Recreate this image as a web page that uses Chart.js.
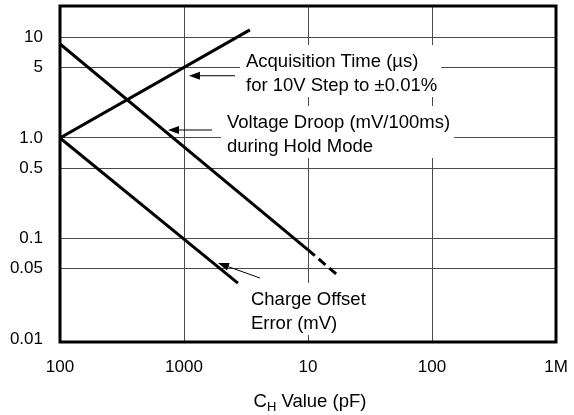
<!DOCTYPE html>
<html>
<head>
<meta charset="utf-8">
<script src="https://cdn.jsdelivr.net/npm/chart.js@4"></script>
<style>
  html, body { margin: 0; padding: 0; background: #fff; }
  canvas { display: block; }
</style>
</head>
<body>
<canvas id="chart" width="574" height="415"></canvas>
<script>
// Axis ticks
var xTicks = [100, 1000, 10000, 100000, 1000000];
var xTickLabels = ['100', '1000', '10', '100', '1M'];
var yTicks = [0.01, 0.05, 0.1, 0.5, 1, 5, 10];
var yTickLabels = ['0.01', '0.05', '0.1', '0.5', '1.0', '5', '10'];

// Curves (C_H in pF vs value)
var acqCap = [100, 3400];
var acqTime = [1.0, 11.9];
var droopCap = [100, 10000];
var droop = [8.6, 0.077];
var droopExtCap = [10000, 17600];
var droopExt = [0.077, 0.0424];
var chargeCap = [100, 2720];
var chargeErr = [1.0, 0.036];

// Annotations (anchors in data units)
var noteTexts = [
  ['Acquisition Time (µs)', 'for 10V Step to ±0.01%'],
  ['Voltage Droop (mV/100ms)', 'during Hold Mode'],
  ['Charge Offset', 'Error (mV)']
];
var noteAnchors = [[3162, 5.08], [2222, 1.256], [3467, 0.0218]];
var arrowTails = [[2577, 4.16], [1683, 1.2], [4100, 0.0404]];
var arrowHeads = [[1096, 4.16], [743, 1.2], [1879, 0.057]];

var FONT = '"Liberation Sans", Arial, Helvetica, sans-serif';
var NOTE_FONT = '18.5px ' + FONT;
Chart.defaults.font.family = FONT;
Chart.defaults.color = '#000';

function pairs(xs, ys) {
  return xs.map((x, i) => ({ x: x, y: ys[i] }));
}

function lineSet(xs, ys, dash) {
  return {
    data: pairs(xs, ys),
    borderColor: '#000',
    borderWidth: 3,
    borderDash: dash || [],
    pointRadius: 0,
    fill: false,
    tension: 0
  };
}

const notesPlugin = {
  id: 'notes',
  beforeDatasetsDraw(chart) {
    const ctx = chart.ctx;
    const xs = chart.scales.x, ys = chart.scales.y;
    ctx.save();
    ctx.font = NOTE_FONT;
    noteTexts.forEach((lines, i) => {
      const left = xs.getPixelForValue(noteAnchors[i][0]);
      const base = ys.getPixelForValue(noteAnchors[i][1]);
      const w = Math.max(...lines.map(t => ctx.measureText(t).width));
      ctx.fillStyle = '#fff';
      ctx.fillRect(left - 6, base - 22, w + 10, 24 * (lines.length - 1) + 28);
    });
    ctx.restore();
  },
  afterDatasetsDraw(chart) {
    const ctx = chart.ctx;
    const a = chart.chartArea;
    const xs = chart.scales.x, ys = chart.scales.y;
    ctx.save();
    // frame
    ctx.strokeStyle = '#000';
    ctx.lineWidth = 3;
    ctx.strokeRect(a.left, a.top, a.right - a.left, a.bottom - a.top);

    // labels
    ctx.fillStyle = '#000';
    ctx.font = NOTE_FONT;
    ctx.textAlign = 'left';
    ctx.textBaseline = 'alphabetic';
    noteTexts.forEach((lines, i) => {
      const left = xs.getPixelForValue(noteAnchors[i][0]);
      const base = ys.getPixelForValue(noteAnchors[i][1]);
      lines.forEach((t, j) => ctx.fillText(t, left, base + j * 24));
    });

    // arrows
    ctx.lineWidth = 1;
    arrowTails.forEach((tail, i) => {
      const x0 = xs.getPixelForValue(tail[0]), y0 = ys.getPixelForValue(tail[1]);
      const x1 = xs.getPixelForValue(arrowHeads[i][0]), y1 = ys.getPixelForValue(arrowHeads[i][1]);
      const ang = Math.atan2(y1 - y0, x1 - x0);
      ctx.beginPath();
      ctx.moveTo(x0, y0);
      ctx.lineTo(x1 - 8 * Math.cos(ang), y1 - 8 * Math.sin(ang));
      ctx.stroke();
      ctx.beginPath();
      ctx.moveTo(x1, y1);
      ctx.lineTo(x1 - 11 * Math.cos(ang) + 4 * Math.sin(ang), y1 - 11 * Math.sin(ang) - 4 * Math.cos(ang));
      ctx.lineTo(x1 - 11 * Math.cos(ang) - 4 * Math.sin(ang), y1 - 11 * Math.sin(ang) + 4 * Math.cos(ang));
      ctx.closePath();
      ctx.fill();
    });

    // x axis title with subscript
    const cx = (a.left + a.right) / 2 + 2;
    const by = 407;
    ctx.font = NOTE_FONT;
    const wC = ctx.measureText('C').width;
    const wRest = ctx.measureText(' Value (pF)').width;
    ctx.font = '13px ' + FONT;
    const wH = ctx.measureText('H').width;
    let x = cx - (wC + wH + wRest) / 2;
    ctx.font = NOTE_FONT;
    ctx.fillText('C', x, by);
    x += wC;
    ctx.font = '13px ' + FONT;
    ctx.fillText('H', x, by + 4);
    x += wH;
    ctx.font = NOTE_FONT;
    ctx.fillText(' Value (pF)', x, by);
    ctx.restore();
  }
};

new Chart(document.getElementById('chart').getContext('2d'), {
  type: 'line',
  data: {
    datasets: [
      lineSet(acqCap, acqTime),
      lineSet(droopCap, droop),
      lineSet(droopExtCap, droopExt, [9, 5]),
      lineSet(chargeCap, chargeErr)
    ]
  },
  options: {
    responsive: false,
    animation: false,
    devicePixelRatio: 1,
    layout: { padding: { left: 0, right: 18, top: 6, bottom: 0 } },
    plugins: {
      legend: { display: false },
      tooltip: { enabled: false }
    },
    scales: {
      x: {
        type: 'logarithmic',
        min: 100,
        max: 1000000,
        afterBuildTicks: s => { s.ticks = xTicks.map(v => ({ value: v })); },
        afterFit: s => {
          s.height = 73;
          s.paddingLeft = 0; s.paddingRight = 0;
          s.paddingTop = 0; s.paddingBottom = 0;
        },
        ticks: {
          autoSkip: false,
          maxRotation: 0,
          padding: 15,
          font: { size: 17 },
          color: '#000',
          callback: (v, i) => xTickLabels[i]
        },
        grid: { color: '#4a4a4a', lineWidth: 1, drawTicks: false },
        border: { display: false }
      },
      y: {
        type: 'logarithmic',
        min: 0.00933,
        max: 20.55,
        afterBuildTicks: s => { s.ticks = yTicks.map(v => ({ value: v })); },
        afterFit: s => {
          s.width = 60;
          s.paddingLeft = 0; s.paddingRight = 0;
          s.paddingTop = 0; s.paddingBottom = 0;
        },
        ticks: {
          autoSkip: false,
          padding: 17,
          font: { size: 17 },
          color: '#000',
          callback: (v, i) => yTickLabels[i]
        },
        grid: {
          color: c => (c.tick && c.tick.value === 0.01) ? 'rgba(0,0,0,0)' : '#4a4a4a',
          lineWidth: 1,
          drawTicks: false
        },
        border: { display: false }
      }
    }
  },
  plugins: [notesPlugin]
});
</script>
</body>
</html>
